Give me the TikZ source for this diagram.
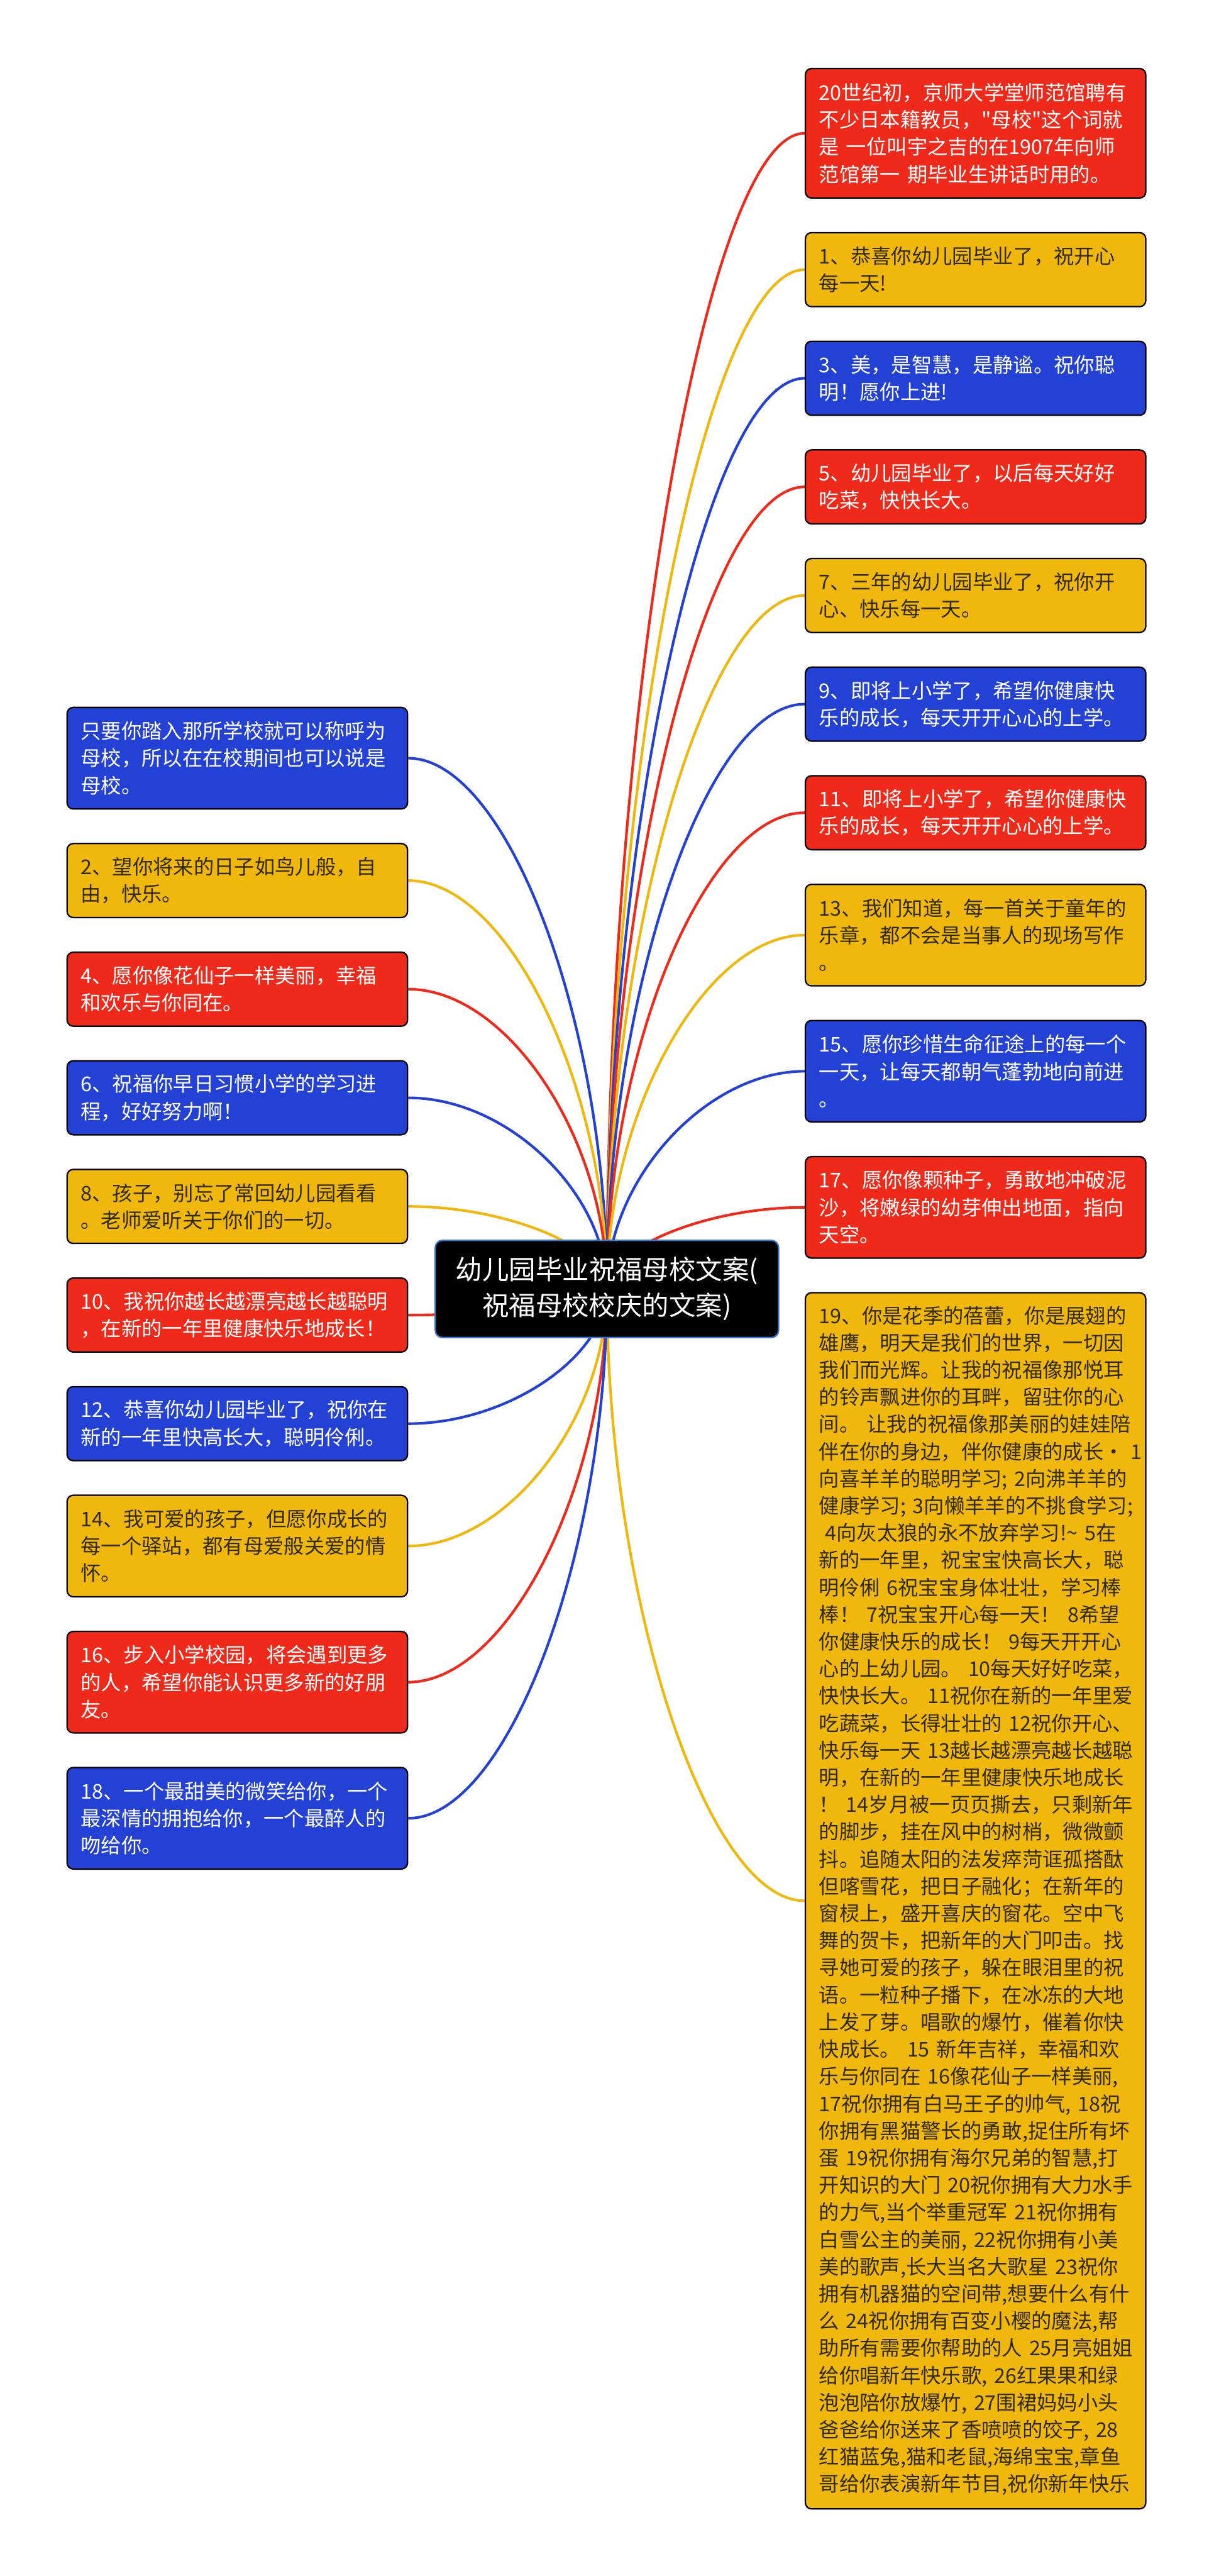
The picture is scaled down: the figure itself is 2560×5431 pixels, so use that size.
\documentclass[tikz,border=0pt]{standalone}
\usepackage{fontspec}
\newfontfamily\cjk{Noto Sans CJK SC}
\usetikzlibrary{positioning,calc,backgrounds}
\definecolor{hong}{HTML}{EF2A1A}
\definecolor{huang}{HTML}{F0B80C}
\definecolor{lan}{HTML}{2441D6}
\definecolor{ink}{HTML}{332B00}
\definecolor{rim}{HTML}{3C78D8}
\tikzset{
  card/.style={draw=black, line width=0.3mm, rounded corners=1.3mm,
               text width=66mm, inner xsep=2.9mm, inner ysep=1mm, align=left,
               font=\cjk\fontsize{12.2pt}{16.3pt}\selectfont},
  redc/.style={card, fill=hong, text=white},
  yelc/.style={card, fill=huang, text=ink},
  bluc/.style={card, fill=lan, text=white},
  rows2/.style={minimum height=15.6mm},
  rows3/.style={minimum height=21.4mm},
  rows4/.style={minimum height=27.3mm},
  core/.style={draw=rim, line width=0.3mm, fill=black, rounded corners=1.5mm,
               minimum width=72.4mm, minimum height=20.5mm, text=white,
               align=center, font=\cjk\fontsize{16pt}{21.6pt}\selectfont},
  link/.style={line width=0.55mm},
}
\newcommand{\linkto}[3]{%
  \draw[link, draw=#1] (root.center)
    .. controls ($(root.center)!.5!(root.center |- #2.#3)$)
    and ($(root.center |- #2.#3)!.5!(#2.#3)$) .. (#2.#3);}

\begin{document}
\begin{tikzpicture}[x=0.1mm, y=-0.1mm, node distance=7mm]
  \useasboundingbox (0,0) rectangle (2560,5431);

  \node[core] (root) at (1280,2717.5) {幼儿园毕业祝福母校文案(\\祝福母校校庆的文案)};

  % right column
  \node[redc, rows4, anchor=north west] (r0) at (1697,143)
       {20世纪初，京师大学堂师范馆聘有\\不少日本籍教员，"母校"这个词就\\是 一位叫宇之吉的在1907年向师\\范馆第一 期毕业生讲话时用的。};
  \node[yelc, rows2, below=of r0] (r1) {1、恭喜你幼儿园毕业了，祝开心\\每一天!};
  \node[bluc, rows2, below=of r1] (r3) {3、美，是智慧，是静谧。祝你聪\\明！愿你上进!};
  \node[redc, rows2, below=of r3] (r5) {5、幼儿园毕业了，以后每天好好\\吃菜，快快长大。};
  \node[yelc, rows2, below=of r5] (r7) {7、三年的幼儿园毕业了，祝你开\\心、快乐每一天。};
  \node[bluc, rows2, below=of r7] (r9) {9、即将上小学了，希望你健康快\\乐的成长，每天开开心心的上学。};
  \node[redc, rows2, below=of r9] (r11) {11、即将上小学了，希望你健康快\\乐的成长，每天开开心心的上学。};
  \node[yelc, rows3, below=of r11] (r13) {13、我们知道，每一首关于童年的\\乐章，都不会是当事人的现场写作\\。};
  \node[bluc, rows3, below=of r13] (r15) {15、愿你珍惜生命征途上的每一个\\一天，让每天都朝气蓬勃地向前进\\。};
  \node[redc, rows3, below=of r15] (r17) {17、愿你像颗种子，勇敢地冲破泥\\沙，将嫩绿的幼芽伸出地面，指向\\天空。};
  \node[yelc, minimum height=256.4mm, below=of r17] (r19)
       {19、你是花季的蓓蕾，你是展翅的\\雄鹰，明天是我们的世界，一切因\\我们而光辉。让我的祝福像那悦耳\\的铃声飘进你的耳畔，留驻你的心\\间。~让我的祝福像那美丽的娃娃陪\\伴在你的身边，伴你健康的成长·~1\\向喜羊羊的聪明学习;~2向沸羊羊的\\健康学习;~3向懒羊羊的不挑食学习;\\\hspace*{.3em}4向灰太狼的永不放弃学习!\textasciitilde~5在\\新的一年里，祝宝宝快高长大，聪\\明伶俐~6祝宝宝身体壮壮，学习棒\\棒！~7祝宝宝开心每一天！~8希望\\你健康快乐的成长！~9每天开开心\\心的上幼儿园。~10每天好好吃菜，\\快快长大。~11祝你在新的一年里爱\\吃蔬菜，长得壮壮的~12祝你开心、\\快乐每一天~13越长越漂亮越长越聪\\明，在新的一年里健康快乐地成长\\！~14岁月被一页页撕去，只剩新年\\的脚步，挂在风中的树梢，微微颤\\抖。追随太阳的法发瘁菏诓孤搭酞\\但喀雪花，把日子融化；在新年的\\窗棂上，盛开喜庆的窗花。空中飞\\舞的贺卡，把新年的大门叩击。找\\寻她可爱的孩子，躲在眼泪里的祝\\语。一粒种子播下，在冰冻的大地\\上发了芽。唱歌的爆竹，催着你快\\快成长。~15~新年吉祥，幸福和欢\\乐与你同在~16像花仙子一样美丽,\\17祝你拥有白马王子的帅气,~18祝\\你拥有黑猫警长的勇敢,捉住所有坏\\蛋~19祝你拥有海尔兄弟的智慧,打\\开知识的大门~20祝你拥有大力水手\\的力气,当个举重冠军~21祝你拥有\\白雪公主的美丽,~22祝你拥有小美\\美的歌声,长大当名大歌星~23祝你\\拥有机器猫的空间带,想要什么有什\\么~24祝你拥有百变小樱的魔法,帮\\助所有需要你帮助的人~25月亮姐姐\\给你唱新年快乐歌,~26红果果和绿\\泡泡陪你放爆竹,~27围裙妈妈小头\\爸爸给你送来了香喷喷的饺子,~28\\红猫蓝兔,猫和老鼠,海绵宝宝,章鱼\\哥给你表演新年节目,祝你新年快乐};

  % left column
  \node[bluc, rows3, anchor=north west] (l0) at (140,1490)
       {只要你踏入那所学校就可以称呼为\\母校，所以在在校期间也可以说是\\母校。};
  \node[yelc, rows2, below=of l0] (l2) {2、望你将来的日子如鸟儿般，自\\由，快乐。};
  \node[redc, rows2, below=of l2] (l4) {4、愿你像花仙子一样美丽，幸福\\和欢乐与你同在。};
  \node[bluc, rows2, below=of l4] (l6) {6、祝福你早日习惯小学的学习进\\程，好好努力啊！};
  \node[yelc, rows2, below=of l6] (l8) {8、孩子，别忘了常回幼儿园看看\\。老师爱听关于你们的一切。};
  \node[redc, rows2, below=of l8] (l10) {10、我祝你越长越漂亮越长越聪明\\，在新的一年里健康快乐地成长！};
  \node[bluc, rows2, below=of l10] (l12) {12、恭喜你幼儿园毕业了，祝你在\\新的一年里快高长大，聪明伶俐。};
  \node[yelc, rows3, below=of l12] (l14) {14、我可爱的孩子，但愿你成长的\\每一个驿站，都有母爱般关爱的情\\怀。};
  \node[redc, rows3, below=of l14] (l16) {16、步入小学校园，将会遇到更多\\的人，希望你能认识更多新的好朋\\友。};
  \node[bluc, rows3, below=of l16] (l18) {18、一个最甜美的微笑给你，一个\\最深情的拥抱给你，一个最醉人的\\吻给你。};

  \begin{scope}[on background layer]
    \fill[white] (0,0) rectangle (2560,5431);
    \foreach \n/\c in {r0/hong, r1/huang, r3/lan, r5/hong, r7/huang, r9/lan,
                       r11/hong, r13/huang, r15/lan, r17/hong, r19/huang}
      \linkto{\c}{\n}{west};
    \foreach \n/\c in {l0/lan, l2/huang, l4/hong, l6/lan, l8/huang, l10/hong,
                       l12/lan, l14/huang, l16/hong, l18/lan}
      \linkto{\c}{\n}{east};
  \end{scope}
\end{tikzpicture}
\end{document}
